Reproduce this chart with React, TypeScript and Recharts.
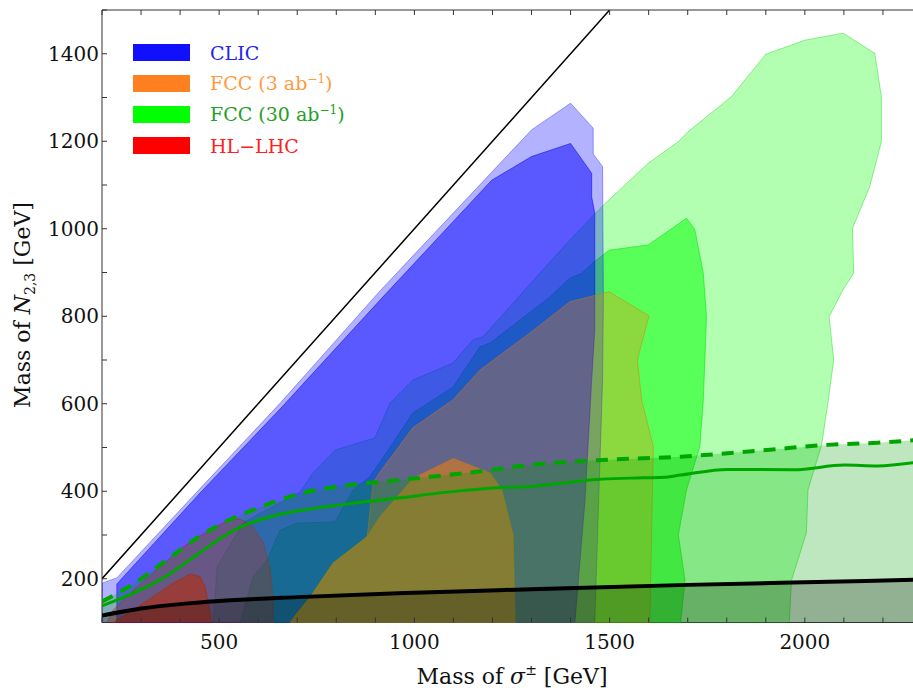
import React from 'react';
import { ScatterChart, Scatter, XAxis, YAxis } from 'recharts';

type Pt = [number, number];

// axis ticks
const xTicks = [200, 300, 400, 500, 600, 700, 800, 900, 1000, 1100, 1200, 1300, 1400, 1500, 1600, 1700, 1800, 1900, 2000, 2100, 2200, 2300];
const xLabels = [500, 1000, 1500, 2000];
const yTicks = [100, 200, 300, 400, 500, 600, 700, 800, 900, 1000, 1100, 1200, 1300, 1400, 1500];
const yLabels = [200, 400, 600, 800, 1000, 1200, 1400];

// FCC 30 ab^-1 regions (outer / inner contour)
const fcc30Outer: Pt[] = [
  [1960, 100], [1966, 197], [2004, 305], [2008, 403], [2043, 506], [2060, 609], [2074, 700], [2062, 799],
  [2100, 864], [2125, 898], [2122, 1001], [2166, 1096], [2196, 1199], [2196, 1302], [2179, 1401], [2098, 1447],
  [2000, 1431], [1900, 1399], [1812, 1302], [1701, 1222], [1676, 1199], [1599, 1150], [1484, 1054], [1398, 974],
  [1313, 890], [1245, 822], [1176, 753], [1150, 746], [1099, 693], [996, 654], [938, 602], [899, 522],
  [797, 494], [741, 442], [707, 398], [656, 373], [597, 346], [561, 327], [495, 227], [485, 100], [1960, 100],
];
const fcc30Inner: Pt[] = [
  [1682, 100], [1693, 197], [1676, 300], [1697, 403], [1731, 502], [1740, 609], [1748, 799], [1740, 898],
  [1718, 999], [1697, 1024], [1599, 963], [1499, 951], [1457, 922], [1428, 898], [1398, 887], [1347, 844],
  [1270, 791], [1194, 739], [1168, 730], [1099, 638], [996, 579], [945, 510], [886, 433], [843, 403],
  [797, 330], [700, 327], [656, 311], [623, 243], [587, 204], [554, 100], [1682, 100],
];

// CLIC
const clicOuter: Pt[] = [
  [200, 100], [200, 190], [238, 202], [450, 405], [656, 601], [912, 858], [1300, 1226], [1400, 1287],
  [1458, 1230], [1458, 1171], [1482, 1142], [1484, 837], [1482, 654], [1472, 380], [1462, 100], [200, 100],
];
const clicInner: Pt[] = [
  [238, 100], [238, 188], [450, 395], [656, 588], [912, 837], [1198, 1111], [1300, 1165], [1400, 1195],
  [1454, 1127], [1454, 1073], [1462, 1036], [1462, 769], [1454, 654], [1437, 380], [1411, 100], [238, 100],
];

// FCC 3 ab^-1
const fcc3Outer: Pt[] = [
  [1603, 100], [1612, 502], [1582, 609], [1571, 700], [1601, 801], [1499, 856], [1398, 833], [1296, 762],
  [1237, 723], [1168, 677], [1099, 609], [996, 545], [912, 444], [894, 419], [879, 295], [792, 236],
  [733, 158], [700, 122], [682, 100], [1603, 100],
];
const fcc3Inner: Pt[] = [
  [1258, 100], [1253, 300], [1224, 403], [1194, 442], [1100, 475], [997, 430], [912, 342], [878, 296],
  [792, 236], [733, 158], [700, 122], [682, 100], [1258, 100],
];

// HL-LHC
const hllhcOuter: Pt[] = [
  [213, 100], [229, 129], [280, 174], [349, 227], [408, 273], [468, 307], [520, 332], [554, 337],
  [587, 318], [613, 282], [630, 227], [638, 158], [638, 100], [213, 100],
];
const hllhcInner: Pt[] = [
  [229, 100], [280, 129], [331, 159], [382, 190], [426, 211], [451, 205], [464, 182], [472, 145], [481, 100], [229, 100],
];

// curves
const blackCurve: Pt[] = [
  [200, 116], [300, 132], [400, 142], [500, 149], [700, 158], [1000, 168], [1300, 176], [1700, 186], [2000, 192], [2300, 198],
];
const greenSolid: Pt[] = [
  [200, 138], [280, 167], [366, 207], [451, 260], [510, 296], [554, 318], [620, 339], [708, 356], [820, 370],
  [964, 385], [1084, 398], [1212, 408], [1297, 411], [1382, 419], [1468, 427], [1554, 430], [1638, 432],
  [1682, 437], [1802, 450], [1972, 449], [2101, 460], [2186, 458], [2300, 468],
];
const greenDashed: Pt[] = [
  [200, 148], [280, 188], [366, 243], [451, 298], [520, 332], [580, 355], [708, 395], [820, 413], [964, 426],
  [1126, 441], [1340, 464], [1468, 471], [1682, 479], [1887, 493], [2058, 506], [2186, 511], [2300, 518],
];
const diagonal: Pt[] = [[200, 200], [1500, 1500]];

const legendItems = [
  { label: 'CLIC', sup: '', swatch: '#1010ff', text: '#2424ee' },
  { label: 'FCC (3 ab', sup: '−1', swatch: '#ff8020', text: '#ff9a40' },
  { label: 'FCC (30 ab', sup: '−1', swatch: '#00ff00', text: '#22a022' },
  { label: 'HL−LHC', sup: '', swatch: '#ff0000', text: '#ff2020' },
];

const FONT = 'DejaVu Serif';
const AXIS = '#333';

const toPts = (a: Pt[]) => a.map(([x, y]) => ({ x, y }));
const underCurve = (a: Pt[]) => toPts([...a, [a[a.length - 1][0], 100], [a[0][0], 100]]);
const noDot = () => <g />;

function BottomTick(props: any) {
  const { x, y, payload } = props;
  return (
    <g>
      <line x1={x} y1={y} x2={x} y2={y - 5} stroke={AXIS} />
      {xLabels.includes(payload.value) && (
        <text x={x} y={y + 26} textAnchor="middle" fontFamily={FONT} fontSize={20} fill="#111">
          {payload.value}
        </text>
      )}
    </g>
  );
}

function TopTick(props: any) {
  const { x, y } = props;
  return <line x1={x} y1={y} x2={x} y2={y + 5} stroke={AXIS} />;
}

function LeftTick(props: any) {
  const { x, y, payload } = props;
  return (
    <g>
      <line x1={x} y1={y} x2={x + 5} y2={y} stroke={AXIS} />
      {yLabels.includes(payload.value) && (
        <text x={x - 3} y={y + 7} textAnchor="end" fontFamily={FONT} fontSize={20} fill="#111">
          {payload.value}
        </text>
      )}
    </g>
  );
}

function XTitle(props: any) {
  const vb = props.viewBox;
  const cx = vb.x + vb.width / 2;
  return (
    <text x={cx} y={vb.y + 61} textAnchor="middle" fontFamily={FONT} fontSize={22} fill="#111">
      Mass of <tspan fontStyle="italic">σ</tspan>
      <tspan dy={-9} fontSize={14}>±</tspan>
      <tspan dy={9}> [GeV]</tspan>
    </text>
  );
}

function YTitle() {
  const cy = 305;
  const cx = 30;
  return (
    <text x={cx} y={cy} transform={`rotate(-90, ${cx}, ${cy})`} textAnchor="middle" fontFamily={FONT} fontSize={22} fill="#111">
      Mass of <tspan fontStyle="italic">N</tspan>
      <tspan dy={5} fontSize={14}>2,3</tspan>
      <tspan dy={-5}> [GeV]</tspan>
    </text>
  );
}

export default function App() {
  const region = (key: string, pts: Pt[], fill: string, stroke: string) => (
    <Scatter
      key={key}
      data={toPts(pts)}
      fill="none"
      line={{ fill, stroke, strokeWidth: 1 }}
      lineJointType="linear"
      shape={noDot}
      isAnimationActive={false}
    />
  );
  const curve = (key: string, pts: Pt[], stroke: string, width: number, dash?: string) => (
    <Scatter
      key={key}
      data={toPts(pts)}
      fill="none"
      line={{ fill: 'none', stroke, strokeWidth: width, strokeDasharray: dash }}
      lineJointType="monotoneX"
      shape={noDot}
      isAnimationActive={false}
    />
  );

  return (
    <div style={{ position: 'relative', width: 913, height: 690, overflow: 'hidden', background: '#fff' }}>
      <style>{'body{margin:0}'}</style>
      <ScatterChart width={930} height={690} margin={{ top: 0, right: 8, bottom: 0, left: 0 }}>
        <XAxis
          dataKey="x"
          type="number"
          domain={[200, 2300]}
          ticks={xTicks}
          interval={0}
          tickSize={0}
          tickMargin={0}
          tickLine={false}
          axisLine={{ stroke: AXIS }}
          height={67.5}
          tick={(p: any) => <BottomTick {...p} />}
          label={<XTitle />}
          allowDataOverflow
        />
        <XAxis
          xAxisId="top"
          orientation="top"
          dataKey="x"
          type="number"
          domain={[200, 2300]}
          ticks={xTicks}
          interval={0}
          tickSize={0}
          tickMargin={0}
          tickLine={false}
          axisLine={{ stroke: AXIS }}
          height={10}
          tick={(p: any) => <TopTick {...p} />}
          allowDataOverflow
        />
        <YAxis
          dataKey="y"
          type="number"
          domain={[100, 1500]}
          ticks={yTicks}
          interval={0}
          tickSize={0}
          tickMargin={0}
          tickLine={false}
          axisLine={{ stroke: AXIS }}
          width={102}
          tick={(p: any) => <LeftTick {...p} />}
          label={<YTitle />}
          allowDataOverflow
        />
        {region('g30o', fcc30Outer, 'rgba(0,255,0,0.3)', 'rgba(0,210,0,0.4)')}
        {region('g30i', fcc30Inner, 'rgba(0,255,0,0.5)', 'rgba(0,220,0,0.5)')}
        {region('clo', clicOuter, 'rgba(0,0,255,0.3)', 'rgba(0,0,255,0.35)')}
        {region('cli', clicInner, 'rgba(0,0,255,0.5)', 'rgba(0,0,230,0.5)')}
        {region('f3o', fcc3Outer, 'rgba(255,128,0,0.3)', 'rgba(220,120,0,0.45)')}
        {region('f3i', fcc3Inner, 'rgba(255,128,0,0.5)', 'rgba(220,120,0,0.5)')}
        {region('hlo', hllhcOuter, 'rgba(255,0,0,0.3)', 'rgba(220,0,0,0.4)')}
        {region('hli', hllhcInner, 'rgba(255,0,0,0.55)', 'rgba(220,0,0,0.5)')}
        <Scatter
          data={underCurve(greenDashed)}
          fill="none"
          line={{ fill: 'rgba(0,160,0,0.25)', stroke: 'none' }}
          lineJointType="linear"
          shape={noDot}
          isAnimationActive={false}
        />
        <Scatter
          data={underCurve(blackCurve)}
          fill="none"
          line={{ fill: 'rgba(0,0,0,0.23)', stroke: 'none' }}
          lineJointType="linear"
          shape={noDot}
          isAnimationActive={false}
        />
        {curve('diag', diagonal, '#000', 1.5)}
        {curve('black', blackCurve, '#000', 4)}
        {curve('gs', greenSolid, '#00a600', 3)}
        {curve('gd', greenDashed, '#00a600', 4, '12 9')}
      </ScatterChart>
      <div style={{ position: 'absolute', left: 133, top: 37, fontFamily: FONT, fontSize: 19 }}>
        {legendItems.map((it) => (
          <div key={it.label} style={{ display: 'flex', alignItems: 'center', height: 31 }}>
            <span style={{ display: 'inline-block', width: 57, height: 17, background: it.swatch }} />
            <span style={{ marginLeft: 20, color: it.text, whiteSpace: 'nowrap' }}>
              {it.label}
              {it.sup && <sup style={{ fontSize: 12 }}>{it.sup}</sup>}
              {it.sup && ')'}
            </span>
          </div>
        ))}
      </div>
    </div>
  );
}
